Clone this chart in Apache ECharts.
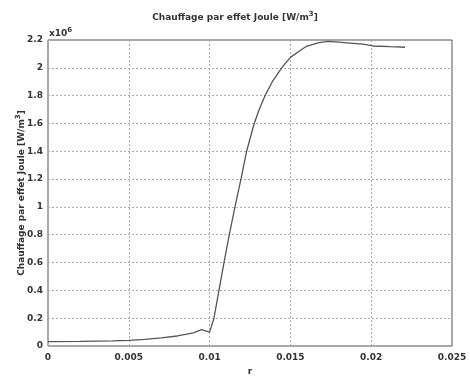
<!DOCTYPE html>
<html>
<head>
<meta charset="utf-8">
<script src="https://cdn.jsdelivr.net/npm/echarts@6/dist/echarts.min.js"></script>
<style>
  html, body { margin: 0; padding: 0; background: #fff; }
  #chart { width: 470px; height: 378px; }
</style>
</head>
<body>
<div id="chart"></div>
<script>
// Radial position r (m)
const radius = [0, 0.002, 0.004, 0.005, 0.006, 0.007, 0.008, 0.009, 0.0095, 0.0097, 0.0100,
  0.01027, 0.01058, 0.01089, 0.01122, 0.01157, 0.01194, 0.01229, 0.01276, 0.01307, 0.01343,
  0.01388, 0.01446, 0.0150, 0.0156, 0.0160, 0.0167, 0.0173, 0.0180, 0.0185, 0.0195, 0.0201,
  0.0212, 0.0221];
// Joule heating (x10^6 W/m^3)
const heating = [0.032, 0.033, 0.037, 0.040, 0.047, 0.058, 0.072, 0.095, 0.117, 0.110, 0.100,
  0.20, 0.40, 0.60, 0.80, 1.00, 1.20, 1.40, 1.60, 1.70, 1.80,
  1.90, 2.00, 2.075, 2.125, 2.155, 2.18, 2.19, 2.185, 2.18, 2.17, 2.157,
  2.152, 2.148];
const xTicks = ['0', '0.005', '0.01', '0.015', '0.02', '0.025'];
const yTicks = ['0', '0.2', '0.4', '0.6', '0.8', '1', '1.2', '1.4', '1.6', '1.8', '2', '2.2'];

const font = 'DejaVu Sans';
const sup = { fontFamily: font, fontSize: 7, fontWeight: 'bold', color: '#333', verticalAlign: 'bottom', padding: [0, 0, 6, 0] };
const chart = echarts.init(document.getElementById('chart'));
chart.setOption({
  animation: false,
  backgroundColor: '#fff',
  title: {
    text: 'Chauffage par effet Joule [W/m{s|3}]',
    left: 'center',
    top: 6,
    textStyle: {
      fontFamily: font, fontSize: 9, fontWeight: 'bold', color: '#333',
      rich: { s: sup }
    }
  },
  grid: { left: 48, right: 18, top: 40, bottom: 32, show: true, borderColor: '#555', borderWidth: 1,
    outerBoundsMode: 'none' },
  xAxis: {
    type: 'value', min: 0, max: 0.025, interval: 0.005,
    name: 'r', nameLocation: 'middle', nameGap: 21, nameMoveOverlap: false,
    nameTextStyle: { fontFamily: font, fontSize: 9, fontWeight: 'bold', color: '#333' },
    axisLine: { show: false }, axisTick: { show: false },
    axisLabel: { fontFamily: font, fontSize: 9, fontWeight: 'bold', color: '#333', margin: 7,
      formatter: v => xTicks[Math.round(v / 0.005)] },
    splitLine: { show: true, lineStyle: { color: '#aaa', type: [2, 2], width: 1 } }
  },
  yAxis: {
    type: 'value', min: 0, max: 2.2, interval: 0.2,
    name: 'Chauffage par effet Joule [W/m{s|3}]', nameLocation: 'middle', nameGap: 20,
    nameMoveOverlap: false,
    nameTextStyle: {
      fontFamily: font, fontSize: 9, fontWeight: 'bold', color: '#333',
      rich: { s: sup }
    },
    axisLine: { show: false }, axisTick: { show: false },
    axisLabel: { fontFamily: font, fontSize: 9, fontWeight: 'bold', color: '#333', margin: 5,
      formatter: v => yTicks[Math.round(v / 0.2)] },
    splitLine: { show: true, lineStyle: { color: '#aaa', type: [2, 2], width: 1 } }
  },
  graphic: [{
    type: 'text', left: 49, top: 27,
    style: {
      text: 'x10{s|6}', fontFamily: font, fontSize: 9, fontWeight: 'bold', fill: '#333',
      rich: { s: { fontFamily: font, fontSize: 7, fontWeight: 'bold', fill: '#333', verticalAlign: 'bottom', padding: [0, 0, 6, 0] } }
    }
  }],
  series: [{
    type: 'line',
    data: radius.map((r, i) => [r, heating[i]]),
    showSymbol: false,
    lineStyle: { color: '#555', width: 1.3 },
    smooth: false
  }]
});
</script>
</body>
</html>
